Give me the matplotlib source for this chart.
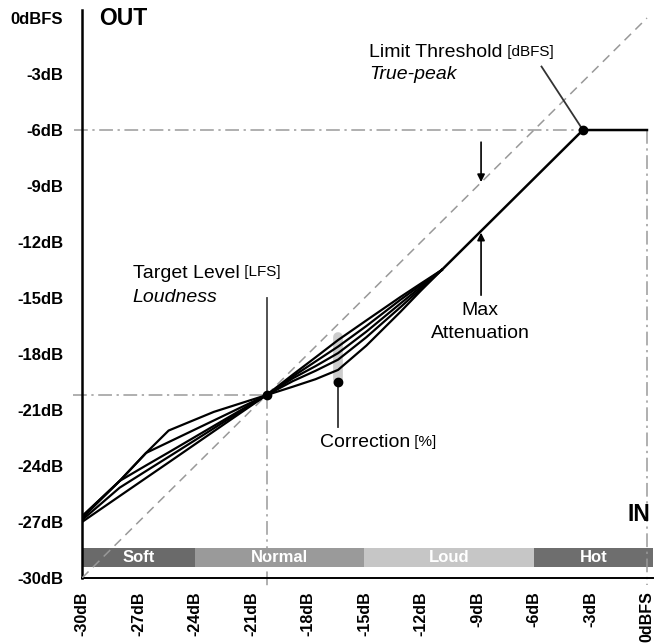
import matplotlib.pyplot as plt

plt.rcParams['font.family'] = ['Liberation Sans', 'DejaVu Sans']

# axis ticks
tick_vals = [-30, -27, -24, -21, -18, -15, -12, -9, -6, -3, 0]
tick_labels = ['-30dB', '-27dB', '-24dB', '-21dB', '-18dB', '-15dB',
               '-12dB', '-9dB', '-6dB', '-3dB', '0dBFS']

# key points
target = -20.2          # target level (in = out)
limit_in = -3.4         # where the max-attenuation line hits the limit
limit_out = -6.0

# correction curves (5 settings), sampled at the same input levels
curve_x = [-30, -28, -26.6, -25.4, -23, -20.2, -18.8, -17.6, -16.4, -14.9, -13.1, -12.0, -10.9]
curve_1 = [-26.7, -24.8, -23.3, -22.1, -21.1, -20.2, -19.75, -19.35, -18.85, -17.55, -15.75, -14.6, -13.5]
curve_2 = [-26.7, -24.8, -23.3, -22.72, -21.56, -20.2, -19.45, -18.9, -18.3, -17.1, -15.5, -14.5, -13.5]
curve_3 = [-26.8, -24.8, -23.97, -23.27, -21.85, -20.2, -19.3, -18.65, -17.95, -16.8, -15.3, -14.4, -13.5]
curve_4 = [-26.9, -25.16, -24.27, -23.51, -21.98, -20.2, -19.2, -18.4, -17.6, -16.5, -15.1, -14.3, -13.5]
curve_5 = [-27.0, -25.61, -24.64, -23.81, -22.14, -20.2, -19.1, -18.18, -17.25, -16.2, -14.95, -14.22, -13.5]

# max attenuation + limiter segment
max_x = [-10.9, limit_in, 0]
max_y = [-13.5, limit_out, limit_out]

# input zones
zone_names = ['Soft', 'Normal', 'Loud', 'Hot']
zone_start = [-30, -24, -15, -6]
zone_end = [-24, -15, -6, 0.32]
zone_colors = ['#6a6a6a', '#9a9a9a', '#c6c6c6', '#6e6e6e']

fig = plt.figure(figsize=(6.6, 6.44), dpi=100)
ax = fig.add_axes([82 / 660, 66 / 644, 571 / 660, 568 / 644])
ax.set_xlim(-30, 0.32)
ax.set_ylim(-30, 0.43)

for s in ['top', 'right']:
    ax.spines[s].set_visible(False)
ax.spines['left'].set_linewidth(1.8)
ax.spines['bottom'].set_linewidth(1.4)

ax.set_xticks(tick_vals)
ax.set_xticklabels(tick_labels, rotation=90, fontweight='bold', fontsize=11.5)
ax.set_yticks(tick_vals)
ax.set_yticklabels(tick_labels, fontweight='bold', fontsize=12)
ax.tick_params(axis='both', length=0)
ax.tick_params(axis='y', pad=13.5)
ax.tick_params(axis='x', pad=9.5)

# zone band
for name, x0, x1, c in zip(zone_names, zone_start, zone_end, zone_colors):
    ax.fill_between([x0, x1], -29.39, -28.4, color=c, lw=0, zorder=1)
    ax.text((x0 + x1) / 2, -28.9, name, color='white', fontweight='bold',
            fontsize=12, ha='center', va='center', zorder=2)

# unity line
ax.plot([-30, 0], [-30, 0], color='#999999', lw=1.1, ls=(0, (6, 4)), zorder=3)

# reference dash-dot lines
dd = dict(color='#9a9a9a', lw=1.1, ls=(0, (9, 3, 1.5, 3)), clip_on=False, zorder=2)
ax.plot([-30.4, 0], [limit_out, limit_out], **dd)
ax.plot([0, 0], [limit_out, -30.4], **dd)
ax.plot([-30.5, target], [target, target], **dd)
ax.plot([target, target], [target, -30.5], **dd)

# curves
for cy in [curve_1, curve_2, curve_3, curve_4, curve_5]:
    ax.plot(curve_x, cy, color='black', lw=1.6, zorder=4)
ax.plot(max_x, max_y, color='black', lw=1.8, zorder=4)

# dots
ax.plot([target, limit_in], [target, limit_out], 'o', color='black', ms=6, zorder=5)

# Target level annotation
ax.plot([target, target], [-15.0, target], color='#444444', lw=1.3, zorder=4)
t1 = ax.text(-27.3, -13.66, 'Target Level', fontsize=14, va='center', ha='left')
ax.annotate(' [LFS]', xy=(1, 0.12), xycoords=t1, fontsize=11, va='bottom', ha='left')
ax.text(-27.3, -14.95, 'Loudness', fontsize=14, style='italic', va='center', ha='left')

# Limit threshold annotation
ax.plot([-5.6, limit_in], [-2.6, limit_out], color='#333333', lw=1.3, zorder=4)
t2 = ax.text(-14.75, -1.83, 'Limit Threshold', fontsize=14, va='center', ha='left')
ax.annotate(' [dBFS]', xy=(1, 0.12), xycoords=t2, fontsize=11, va='bottom', ha='left')
ax.text(-14.75, -3.05, 'True-peak', fontsize=14, style='italic', va='center', ha='left')

# attenuation arrows
ax.annotate('', xy=(-8.81, -8.79), xytext=(-8.81, -6.65),
            arrowprops=dict(arrowstyle='-|>', color='black', lw=1.2,
                            mutation_scale=11, shrinkA=0, shrinkB=0))
ax.annotate('', xy=(-8.81, -11.5), xytext=(-8.81, -14.85),
            arrowprops=dict(arrowstyle='-|>', color='black', lw=1.2,
                            mutation_scale=11, shrinkA=0, shrinkB=0))
ax.text(-8.86, -15.65, 'Max', fontsize=14, ha='center', va='center')
ax.text(-8.86, -16.88, 'Attenuation', fontsize=14, ha='center', va='center')

# correction annotation
ax.plot([-16.4, -16.4], [-17.1, -19.5], color='#cccccc', lw=7,
        solid_capstyle='round', zorder=3)
ax.plot([-16.4, -16.4], [-19.5, -21.9], color='#333333', lw=1.3, zorder=4)
ax.plot([-16.4], [-19.5], 'o', color='black', ms=6, zorder=5)
t3 = ax.text(-17.36, -22.72, 'Correction', fontsize=14, ha='left', va='center')
ax.annotate(' [%]', xy=(1, 0.12), xycoords=t3, fontsize=11, va='bottom', ha='left')

# axis names
ax.text(-29.1, 0.0, 'OUT', fontsize=16.5, fontweight='bold', ha='left', va='center')
ax.text(0.2, -26.6, 'IN', fontsize=16.5, fontweight='bold', ha='right', va='center')

fig.savefig('out.png', dpi=100)
